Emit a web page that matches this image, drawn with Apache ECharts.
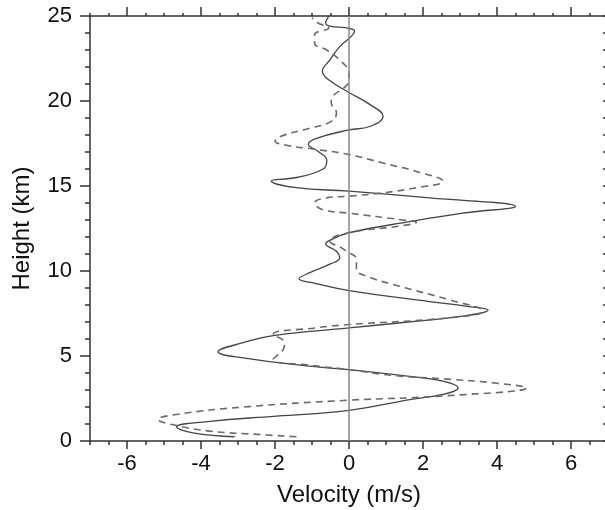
<!DOCTYPE html>
<html>
<head>
<meta charset="utf-8">
<script src="https://cdn.jsdelivr.net/npm/echarts@6/dist/echarts.min.js"></script>
<style>
  html, body { margin: 0; padding: 0; background: #fff; }
  #main { width: 605px; height: 510px; }
</style>
</head>
<body>
<div id="main"></div>
<script>
// solid profile: height (km) and velocity (m/s)
var solidHgt = [0.25, 0.48, 0.83, 1.16, 1.46, 1.8, 2.44, 2.74, 3.13, 3.52, 3.8, 4.2, 4.4, 4.89, 5.25, 5.78, 6.2, 6.65, 7.0, 7.34, 7.7, 7.92, 8.2, 8.85, 9.3, 9.54, 9.9, 10.4, 10.78, 11.16, 11.6, 11.8, 12.25, 12.93, 13.4, 13.8, 14.3, 14.7, 14.9, 15.3, 15.5, 16.0, 16.5, 17.05, 17.45, 17.8, 18.3, 18.5, 19.1, 19.8, 20.5, 21.2, 21.75, 22.4, 23.2, 23.8, 24.1, 24.3, 24.4, 24.6, 24.9, 25];
var solidVel = [-3.09, -4.22, -4.66, -3.76, -1.96, 0, 1.64, 2.54, 2.95, 2.54, 1.64, 0, -1.06, -2.86, -3.54, -2.86, -2.05, 0, 1.6, 3.07, 3.76, 3.2, 2.18, 0, -0.97, -1.35, -1.06, -0.52, -0.25, -0.34, -0.63, -0.52, 0, 1.72, 3.07, 4.5, 2.18, 0, -1.42, -2.1, -1.42, -0.7, -0.6, -0.84, -1.1, -0.88, 0, 0.56, 0.92, 0.56, 0, -0.52, -0.72, -0.52, -0.25, 0.06, 0.15, -0.07, -0.52, -0.63, -0.57, -0.55];

// dashed profile
var dashHgt = [0.25, 0.38, 0.58, 0.91, 1.26, 1.56, 2.0, 2.4, 2.65, 3.13, 3.4, 3.66, 3.85, 4.2, 4.45, 4.8, 5.38, 5.78, 6.26, 6.66, 6.85, 7.25, 7.64, 8.3, 9.1, 9.7, 10.1, 10.7, 11.16, 11.36, 11.75, 12.25, 12.64, 12.87, 13.0, 13.4, 13.6, 14.0, 14.3, 14.4, 14.6, 14.9, 15.28, 15.8, 16.35, 16.85, 17.15, 17.4, 17.65, 17.9, 18.4, 18.8, 19.3, 19.9, 20.3, 20.8, 21.2, 21.65, 22.4, 23.0, 23.4, 23.9, 24.3, 24.6, 24.9];
var dashVel = [-1.42, -2.41, -3.76, -4.66, -5.16, -4.67, -2.86, 0, 2.54, 4.8, 4.0, 2.54, 1.2, 0, -1.0, -2.05, -1.78, -1.74, -2.05, -0.88, 0, 2.72, 3.62, 2.72, 1.37, 0.47, 0.2, 0.2, -0.07, -0.2, -0.52, 0, 1.37, 1.82, 1.46, 0, -0.7, -0.93, -0.61, 0, 0.92, 1.82, 2.54, 1.91, 0.92, 0, -0.88, -1.69, -2.0, -1.87, -1.06, -0.48, -0.34, -0.48, -0.43, -0.12, 0, 0, -0.25, -0.6, -0.93, -0.93, -0.55, -0.85, -1.0];

var xLabelVals = [-6, -4, -2, 0, 2, 4, 6];
var yLabelVals = [0, 5, 10, 15, 20, 25];

function pairs(v, h) {
    var out = [];
    for (var i = 0; i < v.length; i++) out.push([v[i], h[i]]);
    return out;
}

var dom = document.getElementById('main');
var myChart = echarts.init(dom);
var lineCol = '#333';
var font = 'Liberation Sans, Arial, sans-serif';

function axisBase(pos, interval) {
    return {
        type: 'value', position: pos, interval: interval,
        splitLine: { show: false },
        axisLine: { onZero: false, lineStyle: { color: lineCol, width: 1.5 } },
        axisLabel: { show: false }
    };
}

var xMinorBottom = axisBase('bottom', 0.5);
xMinorBottom.min = -7; xMinorBottom.max = 7;
xMinorBottom.axisTick = { length: 4, lineStyle: { color: lineCol, width: 1.5 } };
xMinorBottom.axisLabel = { customValues: xLabelVals, margin: 12, color: '#111', fontSize: 22, fontFamily: font };
xMinorBottom.name = 'Velocity (m/s)';
xMinorBottom.nameLocation = 'middle';
xMinorBottom.nameGap = 42;
xMinorBottom.nameTextStyle = { color: '#111', fontSize: 24, fontFamily: font };

var xMajorBottom = axisBase('bottom', 1);
xMajorBottom.min = -7; xMajorBottom.max = 7;
xMajorBottom.axisLine.show = false;
xMajorBottom.axisTick = { customValues: xLabelVals, length: 8, lineStyle: { color: lineCol, width: 1.5 } };

var xMinorTop = axisBase('top', 0.5);
xMinorTop.min = -7; xMinorTop.max = 7;
xMinorTop.axisTick = { length: 3, lineStyle: { color: lineCol, width: 1.5 } };

var xMajorTop = axisBase('top', 1);
xMajorTop.min = -7; xMajorTop.max = 7;
xMajorTop.axisLine.show = false;
xMajorTop.axisTick = { customValues: xLabelVals, length: 9, lineStyle: { color: lineCol, width: 1.5 } };

var yMinorLeft = axisBase('left', 1);
yMinorLeft.min = 0; yMinorLeft.max = 25;
yMinorLeft.axisTick = { length: 5, lineStyle: { color: lineCol, width: 1.5 } };
yMinorLeft.axisLabel = { customValues: yLabelVals, margin: 18, color: '#111', fontSize: 22, fontFamily: font };
yMinorLeft.name = 'Height (km)';
yMinorLeft.nameLocation = 'middle';
yMinorLeft.nameGap = 56;
yMinorLeft.nameRotate = 90;
yMinorLeft.nameTextStyle = { color: '#111', fontSize: 24, fontFamily: font };

var yMajorLeft = axisBase('left', 1);
yMajorLeft.min = 0; yMajorLeft.max = 25;
yMajorLeft.axisLine.show = false;
yMajorLeft.axisTick = { customValues: yLabelVals, length: 10, lineStyle: { color: lineCol, width: 1.5 } };

// right frame sits just past the canvas edge, only its inner ticks peek in
var yRight = axisBase('right', 1);
yRight.min = 0; yRight.max = 25;
yRight.axisTick = { inside: true, length: 5, lineStyle: { color: lineCol, width: 1.5 } };

var option = {
    animation: false,
    grid: { left: 90, top: 16, width: 518, height: 425, outerBoundsMode: 'none' },
    xAxis: [xMinorBottom, xMajorBottom, xMinorTop, xMajorTop],
    yAxis: [yMinorLeft, yMajorLeft, yRight],
    series: [
        {
            name: 'solid', type: 'line', smooth: 0.45, showSymbol: false,
            data: pairs(solidVel, solidHgt),
            lineStyle: { color: '#444', width: 1.3 },
            markLine: {
                silent: true, symbol: 'none', label: { show: false },
                lineStyle: { color: '#888', width: 1.5, type: 'solid' },
                data: [{ xAxis: 0 }]
            }
        },
        {
            name: 'dashed', type: 'line', smooth: 0.45, showSymbol: false,
            data: pairs(dashVel, dashHgt),
            lineStyle: { color: '#6a6a6a', width: 1.6, type: [7, 5] }
        }
    ]
};

myChart.setOption(option);
</script>
</body>
</html>
